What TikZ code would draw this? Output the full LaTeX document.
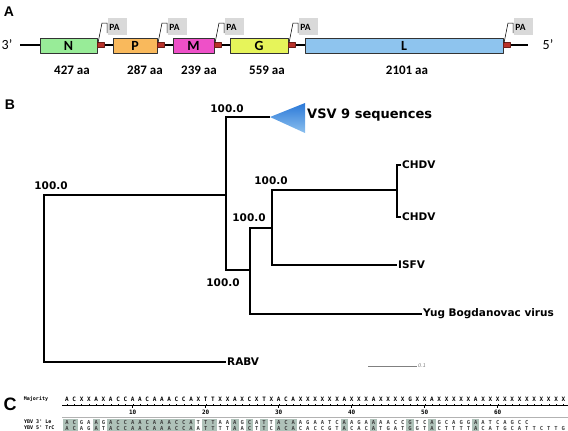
\documentclass[tikz,border=0pt]{standalone}
\usepackage{fontspec}
\setmainfont{DejaVu Sans}
\newfontfamily\calibfont{Carlito}
\newfontfamily\arialfont{Liberation Sans}
\newfontfamily\seqfont{DejaVu Sans Mono}
\definecolor{geneN}{HTML}{98EC98}
\definecolor{geneP}{HTML}{F9B95C}
\definecolor{geneM}{HTML}{EE50C8}
\definecolor{geneG}{HTML}{E6F45A}
\definecolor{geneL}{HTML}{8EC4EE}
\definecolor{junc}{HTML}{B8322A}
\definecolor{pagray}{HTML}{D9D9D9}
\definecolor{vsvTop}{HTML}{2A78D8}
\definecolor{vsvBot}{HTML}{8CC0EE}
\definecolor{matchgray}{HTML}{AFC2B9}
\begin{document}
\begin{tikzpicture}[x=1pt,y=-1pt,line join=round,
    panellbl/.style={inner sep=0pt,font={\arialfont\bfseries\fontsize{14}{14}\selectfont}},
    endlbl/.style={inner sep=0pt,font={\calibfont\fontsize{14}{14}\selectfont}},
    genebox/.style={draw=black!80,line width=0.7pt},
    genelbl/.style={inner sep=0pt,font={\calibfont\bfseries\fontsize{14}{14}\selectfont}},
    aalbl/.style={inner sep=0pt,font={\calibfont\bfseries\fontsize{13}{13}\selectfont}},
    palbl/.style={inner sep=0pt,font={\calibfont\bfseries\fontsize{9.5}{9.5}\selectfont}},
    branchline/.style={line width=2.8pt,line join=miter},
    bootlbl/.style={inner sep=0pt,font={\bfseries\fontsize{10.5}{10.5}\selectfont}},
    tiplbl/.style={anchor=west,inner sep=1pt,font={\bfseries\fontsize{10.5}{10.5}\selectfont}},
    seqlbl/.style={inner sep=0pt,font={\seqfont\bfseries\fontsize{5}{5}\selectfont}},
    seqchr/.style={inner sep=0pt,text=black!75,font={\seqfont\bfseries\fontsize{5.5}{5.5}\selectfont}},
    numlbl/.style={inner sep=0pt,font={\seqfont\bfseries\fontsize{6}{6}\selectfont}},
    matchcell/.style={fill=matchgray}]
\useasboundingbox (0,0) rectangle (568,431);
\pgfmathsetmacro\colw{7.3}
\pgfmathsetmacro\colx{67}
%% A: genome map
\node[panellbl] (lblA) at (9,12) {A};
\coordinate (bbL) at (20,45);
\coordinate (bbR) at (528,45);
\draw[line width=1.3pt] (bbL) -- (bbR);
\node[endlbl] (end3) at (7,45) {3’};
\node[endlbl] (end5) at (548,45) {5’};
\foreach \g/\xa/\xb/\aa/\xl in {N/40/97/427/72,P/113/157/287/145,M/173/214/239/199,G/230/288/559/267,L/305/503/2101/407}{
    \draw[genebox,fill=gene\g] (\xa,38) rectangle (\xb,53);
    \node[genelbl] (g\g) at ({(\xa+\xb)/2},45.5) {\g};
    \node[aalbl] (aa\g) at (\xl,70) {\aa\ aa};
    \draw[fill=junc,draw=junc!60!black,line width=0.4pt] (\xb,42.5) rectangle ++(7,5);
    \fill[pagray] (\xb+11,18) rectangle (\xb+30,35);
    \draw[line width=0.5pt] (\xb+1,43) -- ++(4,-20) -- ++(5,0) -- ++(0,10);
    \node[palbl] (pa\g) at (\xb+17.5,27) {PA};
}
%% B: tree
\node[panellbl] (lblB) at (10,105) {B};
\coordinate (nRoot) at (44,278);
\coordinate (nX) at (226,195);
\coordinate (nY) at (250,270);
\coordinate (nZ) at (272,228);
\coordinate (nW) at (397,190);
\coordinate (tVSV) at (270,117);
\coordinate (tCHDVa) at (401,165);
\coordinate (tCHDVb) at (401,217);
\coordinate (tISFV) at (397,265);
\coordinate (tYug) at (422,314);
\coordinate (tRABV) at (226,362);
\draw[branchline] (nX) -| (nRoot) |- (tRABV);
\draw[branchline] (tVSV) -| (nX) |- (nY);
\draw[branchline] (nZ) -| (nY) |- (tYug);
\draw[branchline] (nW) -| (nZ) |- (tISFV);
\draw[branchline] (tCHDVa) -| (nW) |- (tCHDVb);
\shade[top color=vsvTop,bottom color=vsvBot] (tVSV) -- ++(35,-14) -- ++(0,30) -- cycle;
\node[tiplbl,font={\bfseries\fontsize{13}{13}\selectfont}] (lVSV) at (306,115) {VSV 9 sequences};
\node[tiplbl] (lCHDVa) at (tCHDVa) {CHDV};
\node[tiplbl] (lCHDVb) at (tCHDVb) {CHDV};
\node[tiplbl] (lISFV) at (tISFV) {ISFV};
\node[tiplbl] (lYug) at (tYug) {Yug Bogdanovac virus};
\node[tiplbl] (lRABV) at (tRABV) {RABV};
\node[bootlbl] (bRoot) at (51,186) {100.0};
\node[bootlbl] (bX) at (227,109) {100.0};
\node[bootlbl] (bY) at (223,283) {100.0};
\node[bootlbl] (bZ) at (249,218) {100.0};
\node[bootlbl] (bW) at (271,181) {100.0};
\coordinate (sbL) at (368,366);
\coordinate (sbR) at (417,366);
\draw[gray,line width=0.6pt] (sbL) -- (sbR);
\node[anchor=west,inner sep=1pt,text=gray,font={\itshape\fontsize{5}{5}\selectfont}] (sbLbl) at (sbR) {0.1};
%% C: alignment
\node[panellbl,font={\arialfont\bfseries\fontsize{18}{18}\selectfont}] (lblC) at (10,404) {C};
\node[seqlbl] (lMaj) at (36,399) {Majority};
\node[seqlbl,anchor=west] (lRowA) at (24,422) {YBV 3' Le};
\node[seqlbl,anchor=west] (lRowB) at (24,428) {YBV 5' TrC};
\foreach \i in {1,2,5,7,8,...,18,20,21,24,26,28,30,31,32,39,43,48,51,57}
    \fill[matchcell] ({\colx+\colw*(\i-1)-\colw/2},419) rectangle ++(\colw,12);
\draw[line width=0.5pt] (62,405) -- (568,405);
\draw[gray!60,line width=0.3pt] (62,417.5) -- (568,417.5);
\foreach \i in {1,...,69}
    \draw[line width=0.3pt] ({\colx+\colw*(\i-1)},405) -- ++(0,-1.5);
\foreach \n in {10,20,...,60}{
    \draw[line width=0.5pt] ({\colx+\colw*(\n-1)},405) -- ++(0,3);
    \node[numlbl] (num\n) at ({\colx+\colw*(\n-1)},412.5) {\n};
}
\foreach \c [count=\i] in {A,C,X,X,A,X,A,C,C,A,A,C,A,A,A,C,C,A,X,T,T,X,X,A,X,C,X,T,X,A,C,
    A,X,X,X,X,X,X,A,X,X,X,A,X,X,X,X,G,X,X,A,X,X,X,X,X,A,X,X,X,X,X,X,X,X,X,X,X,X}
    \node[seqchr,text=black,font={\seqfont\bfseries\fontsize{6}{6}\selectfont}] (m\i) at ({\colx+\colw*(\i-1)},399.5) {\c};
\foreach \c [count=\i] in {A,C,G,A,A,G,A,C,C,A,A,C,A,A,A,C,C,A,T,T,T,A,A,A,G,C,A,T,T,A,C,
    A,A,G,A,A,T,C,A,A,G,A,A,A,A,C,C,G,T,C,A,G,C,A,G,G,A,A,T,C,A,G,C,C}
    \node[seqchr] (ra\i) at ({\colx+\colw*(\i-1)},422) {\c};
\foreach \c [count=\i] in {A,C,A,G,A,T,A,C,C,A,A,C,A,A,A,C,C,A,A,T,T,T,T,A,A,C,T,T,C,A,C,
    A,C,A,C,C,G,T,A,C,A,C,A,T,G,A,T,G,G,T,A,C,T,T,T,T,A,C,A,T,G,C,A,T,T,C,T,T,G}
    \node[seqchr] (rb\i) at ({\colx+\colw*(\i-1)},428) {\c};
\end{tikzpicture}
\end{document}
